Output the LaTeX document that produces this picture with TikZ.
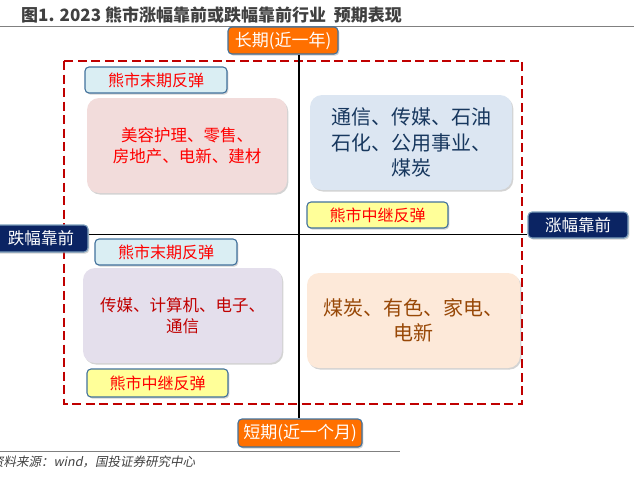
\documentclass[tikz,border=0pt]{standalone}
\usepackage{fontspec}
\setmainfont{Noto Sans CJK SC}
\newfontfamily\cjkslant[FakeSlant=0.2]{Noto Sans CJK SC}
\usetikzlibrary{shadows}
\definecolor{axisorange}{HTML}{FF7000}
\definecolor{lblborder}{HTML}{41719C}
\definecolor{navyfill}{HTML}{0B2463}
\definecolor{lightblue}{HTML}{DAEEF3}
\definecolor{lightyellow}{HTML}{FFFF99}
\definecolor{pinkfill}{HTML}{F2DCDB}
\definecolor{bluefill}{HTML}{DCE6F2}
\definecolor{lavfill}{HTML}{E4DFEC}
\definecolor{peachfill}{HTML}{FDE9D9}
\definecolor{darkred}{HTML}{C00000}
\definecolor{navytext}{HTML}{17375E}
\definecolor{browntext}{HTML}{984807}
\definecolor{titlegray}{HTML}{404040}
\definecolor{rulegray}{HTML}{808080}
\begin{document}
\begin{tikzpicture}[x=1pt,y=-1pt,
  shad/.style={drop shadow={opacity=0.35,shadow xshift=1.3pt,shadow yshift=-1.6pt}},
  lbl/.style={shad,draw=lblborder,line width=1.1pt,rounded corners=4pt,inner sep=0pt,
    font=\fontsize{16}{18}\selectfont},
  axislbl/.style={lbl,fill=axisorange,text=white,font=\fontsize{17}{19}\selectfont},
  dirlbl/.style={lbl,fill=navyfill,draw=lblborder!70,text=white,font=\fontsize{16.5}{19}\selectfont},
  mofa/.style={lbl,fill=lightblue,text=red},
  zhong/.style={lbl,fill=lightyellow,text=red},
  bigbox/.style={shad,rounded corners=12pt,inner sep=0pt,align=center},
  smalltxt/.style={font=\fontsize{16.5}{21}\selectfont},
  largetxt/.style={font=\fontsize{20}{25.5}\selectfont},
  axis/.style={line width=1.3pt,black}]
\useasboundingbox (0,0) rectangle (634,477);
% title
\node[anchor=west,inner sep=0pt,text=titlegray,font=\bfseries\fontsize{17}{19}\selectfont] (title) at (21,15) {图1. 2023 熊市涨幅靠前或跌幅靠前行业\ \ 预期表现};
\coordinate (tl) at (0,26);
\coordinate (tr) at (634,26);
\draw[rulegray,line width=1pt] (tl) -- (tr);
% dashed frame
\draw[darkred,line width=1.5pt,dash pattern=on 9pt off 4.5pt] (64,61) rectangle (522,404);
% axis nodes
\node[axislbl,minimum width=110,minimum height=27] (long) at (283,40.5) {长期(近一年)};
\node[axislbl,minimum width=124,minimum height=28] (short) at (300,433) {短期(近一个月)};
\coordinate (vx) at (299,0);
\coordinate (hy) at (0,234.5);
% big boxes
\node[bigbox,fill=pinkfill,text=red,smalltxt,minimum width=200,minimum height=95] (pink) at (187,145.5) {美容护理、零售、\\房地产、电新、建材};
\node[bigbox,fill=bluefill,text=navytext,largetxt,minimum width=202,minimum height=95] (blue) at (411,142.5) {通信、传媒、石油\\石化、公用事业、\\煤炭};
\node[bigbox,fill=lavfill,text=darkred,smalltxt,minimum width=199,minimum height=95] (lav) at (182.5,315.5) {传媒、计算机、电子、\\通信};
\node[bigbox,fill=peachfill,text=browntext,largetxt,minimum width=213,minimum height=95] (peach) at (413.5,320.5) {煤炭、有色、家电、\\电新};
% direction labels
\node[dirlbl,minimum width=94,minimum height=27] (down) at (41,238.5) {跌幅靠前};
\node[dirlbl,minimum width=100,minimum height=26] (up) at (578,225) {涨幅靠前};
% axes
\draw[axis] (long.south -| vx) -- (short.north -| vx);
\draw[axis] (down.east |- hy) -- (up.west |- hy);
% small labels
\node[mofa,minimum width=142,minimum height=26] (mofa1) at (156,80) {熊市末期反弹};
\node[zhong,minimum width=141,minimum height=26] (zhong1) at (377.5,215) {熊市中继反弹};
\node[mofa,minimum width=142,minimum height=26] (mofa2) at (166,252) {熊市末期反弹};
\node[zhong,minimum width=141,minimum height=28] (zhong2) at (157.5,383) {熊市中继反弹};
% footer
\coordinate (fl) at (0,451);
\coordinate (fr) at (400,451);
\draw[rulegray,line width=1pt] (fl) -- (fr);
\node[anchor=west,inner sep=0pt,text=titlegray,font=\cjkslant\fontsize{12.5}{14}\selectfont] (foot) at (-9,462) {资料来源：wind，国投证券研究中心};
\end{tikzpicture}
\end{document}
